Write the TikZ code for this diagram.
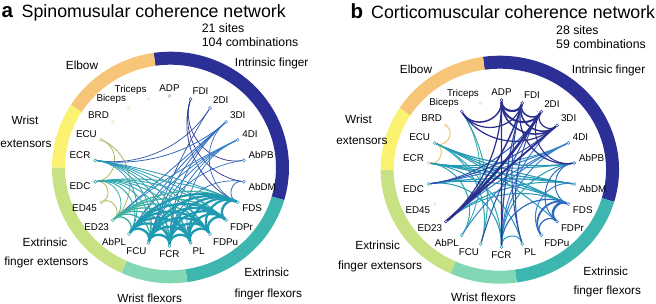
\documentclass[tikz,border=0pt]{standalone}
\usepackage{fontspec}
\setmainfont{Liberation Sans}
\usetikzlibrary{calc}
\definecolor{ringEl}{HTML}{F6C578}
\definecolor{ringIn}{HTML}{2C3096}
\definecolor{ringEF}{HTML}{3EB6B0}
\definecolor{ringWF}{HTML}{82D8B4}
\definecolor{ringEE}{HTML}{C6E282}
\definecolor{ringWE}{HTML}{FAF270}
\definecolor{eNavy}{HTML}{2B2F8E}
\definecolor{eBlueA}{HTML}{2F4FA8}
\definecolor{eBlueB}{HTML}{2F6CC0}
\definecolor{eBlueC}{HTML}{3A80C8}
\definecolor{eFlex}{HTML}{1E9BB2}
\definecolor{eTeal}{HTML}{2599B5}
\definecolor{eTealB}{HTML}{2FA8AE}
\definecolor{eGreen}{HTML}{3BAFA0}
\definecolor{eOlive}{HTML}{B0B45A}
\definecolor{eOrange}{HTML}{F2C274}
\definecolor{dGray}{HTML}{B0B0B0}
\definecolor{dPale}{HTML}{E8E4B0}
\newcommand\cedge[5]{%
  \pgfmathsetmacro\cdd{abs(#2-#3)}%
  \pgfmathsetmacro\cdd{min(\cdd,22-\cdd)*360/22}%
  \pgfmathsetmacro\cdd{min(\cdd,178)}%
  \pgfmathsetmacro\ckk{4/3*tan((180-\cdd)/4)*tan(\cdd/2)}%
  \draw[line width=#4pt, draw=#5] (#1#2) .. controls ($(#1#2)!\ckk!(#1c)$) and ($(#1#3)!\ckk!(#1c)$) .. (#1#3);%
}
\begin{document}
\begin{tikzpicture}[x=1pt,y=1pt,
  dot/.style={circle, inner sep=0pt, minimum size=3pt, line width=0.5pt, draw=#1, fill=white},
  lab/.style={inner sep=0.5pt, font=\fontsize{9.8}{10}\selectfont},
  grp/.style={inner sep=0pt, font=\fontsize{11.8}{12}\selectfont},
  ttl/.style={inner sep=0pt, font=\fontsize{17.8}{18}\selectfont, anchor=base west},
  pnl/.style={inner sep=0pt, font=\fontsize{20.5}{21}\selectfont\bfseries, anchor=base west},
  cnt/.style={inner sep=0pt, font=\fontsize{12.3}{13}\selectfont, anchor=base west},
  ringseg/.style={line width=13pt}]
\useasboundingbox (0,0) rectangle (656,304);
% ---------- panel a ----------
\coordinate (ac) at (169.5,133);
\coordinate (ar) at (170.5,136.5);
\foreach \s/\e/\c in {98.18/-16.36/ringIn, -16.36/-81.82/ringEF, -81.82/-114.55/ringWF, -114.55/-180/ringEE, -180/-212.73/ringWE, -212.73/-261.82/ringEl}
  \draw[ringseg, draw=\c] ($(ar)+(\s:112pt and 109.3pt)$) arc[start angle=\s, end angle=\e, x radius=112pt, y radius=109.3pt];
\foreach \i/\nm/\dc in {0/ADP/dGray,1/FDI/eBlueA,2/2DI/eBlueB,3/3DI/eBlueC,4/4DI/eBlueC,5/AbPB/eBlueC,6/AbDM/eBlueC,7/FDS/eFlex,8/FDPr/eFlex,9/FDPu/eFlex,10/PL/eFlex,11/FCR/eFlex,12/FCU/eFlex,13/AbPL/eGreen,14/ED23/eGreen,15/ED45/eOlive,16/EDC/eTeal,17/ECR/eTeal,18/ECU/eOlive,19/BRD/dPale,20/Biceps/dPale,21/Triceps/dPale}{
  \pgfmathsetmacro\ang{90-\i*360/22}
  \node[dot=\dc, label={[lab,label distance=2.5pt]\ang:\nm}] (a\i) at ($(ac)+(\ang:75pt)$) {};
}
\foreach \i/\j/\w/\c in {
  18/14/0.8/eOlive, 18/16/0.8/eOlive, 15/16/0.8/eOlive, 15/14/0.8/eOlive, 16/14/0.8/eGreen,
  1/5/0.7/eNavy, 1/6/0.7/eNavy, 1/7/0.7/eNavy, 6/7/0.8/eBlueB, 6/11/0.7/eBlueB, 5/12/0.7/eBlueB,
  2/17/0.7/eBlueA, 2/12/0.7/eBlueA,
  3/14/0.8/eBlueB, 3/13/0.8/eBlueB, 3/12/0.8/eBlueB, 3/11/0.8/eBlueB, 3/17/0.8/eBlueB, 3/7/0.7/eBlueB,
  4/13/0.8/eBlueC, 4/12/0.8/eBlueC, 4/11/0.8/eBlueC, 4/10/0.8/eBlueC, 4/14/0.8/eBlueC,
  17/7/0.8/eTeal, 17/8/0.8/eTeal, 17/9/0.8/eTeal, 17/10/0.8/eTeal, 17/11/0.8/eTeal, 17/12/0.8/eTeal, 17/13/0.8/eTeal,
  16/7/0.9/eTealB, 16/8/0.9/eTealB, 16/9/0.9/eTealB, 16/10/0.9/eTealB, 16/11/0.9/eTealB, 16/12/0.9/eTealB, 16/13/0.9/eTealB,
  14/7/1.3/eGreen, 14/8/1.3/eGreen, 14/9/1.3/eGreen, 14/10/1.3/eGreen, 14/11/1.3/eGreen, 14/12/1.3/eGreen, 14/13/1.3/eGreen,
  7/8/2.4/eFlex, 7/9/2.2/eFlex, 7/10/2.2/eFlex, 7/11/2.2/eFlex, 7/12/2.2/eFlex, 7/13/2.2/eFlex,
  8/9/2.4/eFlex, 8/10/2.2/eFlex, 8/11/2.2/eFlex, 8/12/2.2/eFlex, 8/13/2.2/eFlex,
  9/10/2.4/eFlex, 9/11/2.2/eFlex, 9/12/2.2/eFlex, 9/13/2.2/eFlex,
  10/11/2.4/eFlex, 10/12/2.2/eFlex, 10/13/2.2/eFlex,
  11/12/2.4/eFlex, 11/13/2.2/eFlex, 12/13/2.4/eFlex}
  {\cedge{a}{\i}{\j}{\w}{\c}}
\node[pnl] (pa) at (1.5,17.3*-1+304) {a};
\node[ttl] (ta) at (21.5,286.7) {Spinomusular coherence network};
\node[cnt] (sa) at (201.7,271) {21 sites};
\node[cnt] (ca) at (201.7,257) {104 combinations};
\node[grp, anchor=base] (ga1) at (82,234) {Elbow};
\node[grp, anchor=base] (ga2) at (271.7,237.3) {Intrinsic finger};
\node[grp, anchor=base] (ga3) at (25,179) {Wrist};
\node[grp, anchor=base] (ga4) at (26,156) {extensors};
\node[grp, anchor=base] (ga5) at (45,57) {Extrinsic};
\node[grp, anchor=base] (ga6) at (46.3,38) {finger extensors};
\node[grp, anchor=base] (ga7) at (149.7,1.8) {Wrist flexors};
\node[grp, anchor=base] (ga8) at (266.7,27) {Extrinsic};
\node[grp, anchor=base] (ga9) at (268.3,6) {finger flexors};
% ---------- panel b ----------
\coordinate (bc) at (501.5,130.5);
\coordinate (br) at (499.85,134.3);
\foreach \s/\e/\c in {98.18/-16.36/ringIn, -16.36/-81.82/ringEF, -81.82/-114.55/ringWF, -114.55/-180/ringEE, -180/-212.73/ringWE, -212.73/-261.82/ringEl}
  \draw[ringseg, draw=\c] ($(br)+(\s:112.7pt and 107.5pt)$) arc[start angle=\s, end angle=\e, x radius=112.7pt, y radius=107.5pt];
\foreach \i/\nm/\dc in {0/ADP/eNavy,1/FDI/eNavy,2/2DI/eNavy,3/3DI/eBlueA,4/4DI/eBlueC,5/AbPB/eBlueB,6/AbDM/eTeal,7/FDS/eBlueB,8/FDPr/eBlueB,9/FDPu/eBlueC,10/PL/eTeal,11/FCR/eTeal,12/FCU/eTealB,13/AbPL/eTealB,14/ED23/eNavy,15/ED45/dPale,16/EDC/eTealB,17/ECR/eOrange,18/ECU/eTeal,19/BRD/eOrange,20/Biceps/eNavy,21/Triceps/dPale}{
  \pgfmathsetmacro\ang{90-\i*360/22}
  \node[dot=\dc, label={[lab,label distance=2.5pt]\ang:\nm}] (b\i) at ($(bc)+(\ang:73.5pt)$) {};
}
\foreach \i/\j/\w/\c in {
  19/18/1.0/eOrange, 18/17/1.0/eOrange,
  18/5/1.2/eTeal, 17/5/1.0/eTeal, 11/5/1.0/eTeal, 17/6/1.2/eTeal, 16/6/1.2/eTeal, 18/6/1.0/eTeal,
  7/18/1.2/eTeal, 7/17/1.2/eTeal, 7/16/1.0/eTeal, 8/18/1.0/eTeal, 11/16/1.0/eTeal, 11/18/1.0/eTealB,
  11/10/1.0/eTeal, 10/17/1.0/eTeal, 12/18/1.0/eTealB, 12/20/1.0/eTealB, 13/17/1.0/eTealB, 13/20/0.8/eTealB,
  14/7/1.0/eTeal, 14/6/1.0/eTeal, 4/17/1.0/eTeal,
  4/14/1.0/eBlueC, 4/11/1.0/eBlueC, 4/13/1.0/eBlueC, 4/16/1.0/eBlueC, 3/11/1.0/eBlueC, 6/9/1.0/eBlueC,
  7/11/1.2/eBlueB, 7/5/1.0/eBlueB, 8/5/1.0/eBlueB, 8/9/1.2/eBlueB, 7/9/1.8/eBlueB, 7/8/2.5/eBlueB,
  1/11/1.2/eBlueA, 1/10/1.0/eBlueA, 2/16/1.0/eBlueA, 2/12/1.0/eBlueA, 3/16/1.0/eBlueA, 2/10/1.0/eBlueA,
  0/11/1.2/eNavy, 0/14/1.2/eNavy, 1/5/1.2/eNavy, 1/20/1.2/eNavy, 3/20/1.2/eNavy, 2/5/1.0/eNavy,
  1/14/1.5/eNavy, 3/14/1.8/eNavy, 2/14/2.5/eNavy,
  2/3/1.2/eNavy, 1/3/1.5/eNavy, 1/2/1.5/eNavy, 0/20/1.5/eNavy, 0/3/1.5/eNavy, 0/2/2.0/eNavy, 0/1/2.2/eNavy}
  {\cedge{b}{\i}{\j}{\w}{\c}}
\node[pnl] (pb) at (350.5,285.7) {b};
\node[ttl] (tb) at (371,285.7) {Corticomuscular coherence network};
\node[cnt] (sb) at (556,269) {28 sites};
\node[cnt] (cb) at (556,255.7) {59 combinations};
\node[grp, anchor=base] (gb1) at (416,230.7) {Elbow};
\node[grp, anchor=base] (gb2) at (608.5,230.4) {Intrinsic finger};
\node[grp, anchor=base] (gb3) at (358.5,180) {Wrist};
\node[grp, anchor=base] (gb4) at (362,159.5) {extensors};
\node[grp, anchor=base] (gb5) at (377.7,54) {Extrinsic};
\node[grp, anchor=base] (gb6) at (380,34) {finger extensors};
\node[grp, anchor=base] (gb7) at (483.5,2) {Wrist flexors};
\node[grp, anchor=base] (gb8) at (605.7,28.7) {Extrinsic};
\node[grp, anchor=base] (gb9) at (607.3,9) {finger flexors};
\end{tikzpicture}
\end{document}
